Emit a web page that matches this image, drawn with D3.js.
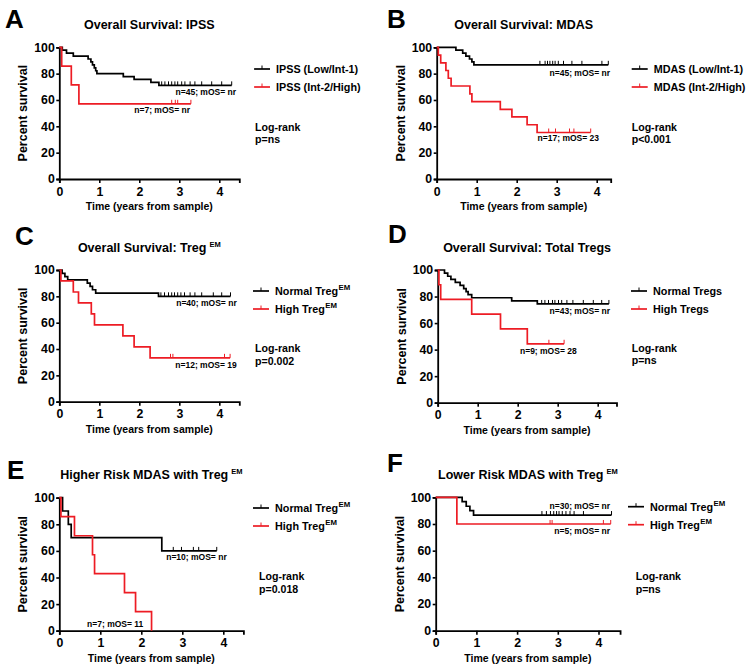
<!DOCTYPE html>
<html>
<head>
<meta charset="utf-8">
<script src="https://cdn.jsdelivr.net/npm/d3@7"></script>
<style>
  body { margin: 0; background: #fff; }
  svg text { font-family: "Liberation Sans", Arial, Helvetica, sans-serif; fill: #000; }
</style>
</head>
<body>
<div class="km-container"></div>
<script>
// ---- data ----
const timeTicks = [0, 1, 2, 3, 4];
const pctTicks = [0, 20, 40, 60, 80, 100];

const panelLetters = ["A", "B", "C", "D", "E", "F"];
const panelTitles = [
  ["Overall Survival: IPSS", ""],
  ["Overall Survival: MDAS", ""],
  ["Overall Survival: Treg", "EM"],
  ["Overall Survival: Total Tregs", ""],
  ["Higher Risk MDAS with Treg", "EM"],
  ["Lower Risk MDAS with Treg", "EM"]
];
const legendLabels = [
  [["IPSS (Low/Int-1)", ""], ["IPSS (Int-2/High)", ""]],
  [["MDAS (Low/Int-1)", ""], ["MDAS (Int-2/High)", ""]],
  [["Normal Treg", "EM"], ["High Treg", "EM"]],
  [["Normal Tregs", ""], ["High Tregs", ""]],
  [["Normal Treg", "EM"], ["High Treg", "EM"]],
  [["Normal Treg", "EM"], ["High Treg", "EM"]]
];
const nLabels = [
  ["n=45; mOS= nr", "n=7; mOS= nr"],
  ["n=45; mOS= nr", "n=17; mOS= 23"],
  ["n=40; mOS= nr", "n=12; mOS= 19"],
  ["n=43; mOS= nr", "n=9; mOS= 28"],
  ["n=10; mOS= nr", "n=7; mOS= 11"],
  ["n=30; mOS= nr", "n=5; mOS= nr"]
];
const pValues = ["p=ns", "p<0.001", "p=0.002", "p=ns", "p=0.018", "p=ns"];

// [years, percent surviving] at each step
const ipssLowSteps = [[0,100],[0.075,97.8],[0.18,95.6],[0.35,93.3],[0.72,91.1],[0.79,88.9],[0.83,86.7],[0.875,84.4],[0.91,82.2],[0.94,80.0],[1.6,77.8],[1.87,75.6],[2.29,73.3],[2.49,71.1],[4.31,71.1]];
const ipssLowCensor = [2.56,2.64,2.73,2.81,2.89,2.96,3.06,3.14,3.27,3.39,3.56,3.81,4.06,4.31];
const ipssHighSteps = [[0,100],[0.06,85.7],[0.3,71.4],[0.49,57.1],[3.29,57.1]];
const ipssHighCensor = [2.81,2.9,2.96,3.29];

const mdasLowSteps = [[0,100],[0.48,97.8],[0.65,95.6],[0.73,93.3],[0.82,91.1],[0.88,88.9],[0.93,86.7],[4.29,86.7]];
const mdasLowCensor = [2.58,2.71,2.77,2.83,2.9,2.96,3.04,3.17,3.38,3.63,4.13,4.29];
const mdasHighSteps = [[0,100],[0.04,94.1],[0.1,88.2],[0.23,82.4],[0.29,76.5],[0.36,70.6],[0.83,64.7],[0.88,58.8],[1.59,52.9],[1.88,47.1],[2.26,41.2],[2.51,35.3],[3.85,35.3]];
const mdasHighCensor = [2.8,2.97,3.32,3.43,3.85];

const tregEmNormSteps = [[0,100],[0.07,97.5],[0.14,95],[0.21,92.5],[0.7,90],[0.77,87.5],[0.83,85],[0.91,82.5],[2.48,80],[4.28,80]];
const tregEmNormCensor = [2.54,2.63,2.73,2.81,2.88,2.96,3.04,3.13,3.27,3.39,3.56,3.85,4.06,4.28];
const tregEmHighSteps = [[0,100],[0.04,91.7],[0.35,83.3],[0.48,75],[0.8,66.7],[0.88,58.3],[1.59,50],[1.87,41.7],[2.27,33.3],[4.27,33.3]];
const tregEmHighCensor = [2.78,2.84,4.13,4.27];

const tregNormSteps = [[0,100],[0.17,97.7],[0.25,95.3],[0.33,93.0],[0.44,90.7],[0.56,88.4],[0.65,86.0],[0.71,83.7],[0.76,81.4],[0.85,79.1],[1.85,76.7],[2.49,74.4],[4.28,74.4]];
const tregNormCensor = [2.6,2.68,2.77,2.87,2.93,3.02,3.1,3.23,3.38,3.64,3.89,4.1,4.28];
const tregHighSteps = [[0,100],[0.03,88.9],[0.075,77.8],[0.85,66.7],[1.57,55.6],[2.24,44.4],[3.16,44.4]];
const tregHighCensor = [2.78,3.16];

const hrNormSteps = [[0,100],[0.08,90],[0.22,80],[0.29,70],[2.5,60],[3.84,60]];
const hrNormCensor = [2.78,2.98,3.27,3.4,3.84];
const hrHighSteps = [[0,100],[0.04,85.7],[0.37,71.4],[0.81,57.1],[0.86,42.9],[1.59,28.6],[1.86,14.3],[2.25,0]];
const hrHighCensor = [];

const lrNormSteps = [[0,100],[0.65,96.7],[0.75,93.3],[0.84,90],[0.93,86.7],[4.32,86.7]];
const lrNormCensor = [2.61,2.72,2.82,2.9,2.97,3.03,3.11,3.2,3.3,3.4,3.63,4.32];
const lrHighSteps = [[0,100],[0.52,80],[4.3,80]];
const lrHighCensor = [2.81,2.86,4.12,4.3];

const seriesSteps = [
  [ipssLowSteps, ipssHighSteps], [mdasLowSteps, mdasHighSteps], [tregEmNormSteps, tregEmHighSteps],
  [tregNormSteps, tregHighSteps], [hrNormSteps, hrHighSteps], [lrNormSteps, lrHighSteps]
];
const seriesCensor = [
  [ipssLowCensor, ipssHighCensor], [mdasLowCensor, mdasHighCensor], [tregEmNormCensor, tregEmHighCensor],
  [tregNormCensor, tregHighCensor], [hrNormCensor, hrHighCensor], [lrNormCensor, lrHighCensor]
];

// ---- layout (pixels) ----
const colors = ["#000000", "#ed1c24"];
const layout = [
  { left: 59.3,  top: 47.3,  height: 131.7, pxYear: 40,   axisEnd: 4.5,  letter: [5, 28.3],   leg: [254, 69],    log: [255, 130.7], ann: [[236, 94.5], [190, 112.5]] },
  { left: 436.7, top: 47.3,  height: 131.7, pxYear: 40,   axisEnd: 4.35, letter: [387, 28.3], leg: [631.7, 69],  log: [631.7, 130.7], ann: [[610, 75.5], [599, 140.5]] },
  { left: 59.3,  top: 270,   height: 131.7, pxYear: 40,   axisEnd: 4.5,  letter: [15, 245],   leg: [253, 291],   log: [255, 352.3], ann: [[236.7, 306], [236.7, 367.5]] },
  { left: 437.7, top: 270,   height: 132.7, pxYear: 40,   axisEnd: 4.47, letter: [388, 243],  leg: [631, 291],   log: [631.7, 351.7], ann: [[610, 314], [576.7, 353.5]] },
  { left: 59.3,  top: 497.7, height: 133,   pxYear: 41,   axisEnd: 4.49, letter: [7, 479],    leg: [253, 508],   log: [259, 580], ann: [[226.7, 559.5], [143.3, 627]] },
  { left: 435.7, top: 497.3, height: 133.4, pxYear: 40.7, axisEnd: 4.53, letter: [387, 472],  leg: [628, 506.7], log: [635.7, 580], ann: [[610, 508.5], [610, 533.5]] }
];

const width = 747, height = 671;
const svg = d3.select(".km-container").append("svg")
  .attr("width", width)
  .attr("height", height)
  .style("background", "#fff");

// survival level in force at time t
function levelAt(steps, t) {
  let v = steps[0][1];
  steps.forEach(s => { if (s[0] <= t) v = s[1]; });
  return v;
}

function supText(sel, parts, supSize, dx, dy) {
  sel.append("tspan").text(parts[0]);
  if (parts[1]) {
    sel.append("tspan").attr("dx", dx).attr("dy", dy).style("font-size", supSize + "px").text(parts[1]);
  }
}

function drawPanel(i) {
  const L = layout[i];
  const x = d3.scaleLinear()
    .domain([0, L.axisEnd])
    .range([L.left, L.left + L.axisEnd * L.pxYear]);
  const y = d3.scaleLinear()
    .domain([0, 100])
    .range([L.top + L.height, L.top]);

  const g = svg.append("g");

  // panel letter
  g.append("text")
    .attr("x", L.letter[0]).attr("y", L.letter[1])
    .style("font-size", "26px").style("font-weight", "bold")
    .text(panelLetters[i]);

  // title
  const xMid = (x.range()[0] + x.range()[1]) / 2;
  const title = g.append("text")
    .attr("x", xMid).attr("y", L.top - 18.5)
    .attr("text-anchor", "middle")
    .style("font-size", "12.5px").style("font-weight", "bold");
  supText(title, panelTitles[i], 7.5, 3, -5);

  // axes
  const xAxis = g.append("g")
    .attr("transform", `translate(0, ${y(0)})`)
    .call(d3.axisBottom(x).tickValues(timeTicks).tickFormat(d3.format("d"))
      .tickSizeOuter(0).tickSize(4).tickPadding(4));
  const yAxis = g.append("g")
    .attr("transform", `translate(${x(0)}, 0)`)
    .call(d3.axisLeft(y).tickValues(pctTicks).tickSizeOuter(0).tickSize(3).tickPadding(1.5));
  [xAxis, yAxis].forEach(a => {
    a.select(".domain").attr("stroke-width", 1.8);
    a.selectAll(".tick line").attr("stroke-width", 1.6);
    a.selectAll(".tick text")
      .style("font-size", "12.3px").style("font-weight", "bold")
      .style("font-family", "'Liberation Sans', Arial, sans-serif");
  });

  // axis titles
  g.append("text")
    .attr("x", xMid).attr("y", y(0) + 31)
    .attr("text-anchor", "middle")
    .style("font-size", "10.5px").style("font-weight", "bold")
    .text("Time (years from sample)");
  g.append("text")
    .attr("transform", `translate(${x(0) - 32}, ${(y(0) + y(100)) / 2}) rotate(-90)`)
    .attr("text-anchor", "middle")
    .style("font-size", "12.5px").style("font-weight", "bold")
    .text("Percent survival");

  // curves + censor marks
  const line = d3.line()
    .x(d => x(d[0]))
    .y(d => y(d[1]))
    .curve(d3.curveStepAfter);

  [0, 1].forEach(k => {
    const steps = seriesSteps[i][k];
    g.append("path")
      .datum(steps)
      .attr("d", line)
      .attr("fill", "none")
      .attr("stroke", colors[k])
      .attr("stroke-width", 1.7);

    g.selectAll(null)
      .data(seriesCensor[i][k])
      .enter()
      .append("line")
        .attr("x1", d => x(d)).attr("x2", d => x(d))
        .attr("y1", d => y(levelAt(steps, d)))
        .attr("y2", d => y(levelAt(steps, d)) - 4)
        .attr("stroke", colors[k])
        .attr("stroke-width", 1);

    // n / median annotation
    g.append("text")
      .attr("x", L.ann[k][0]).attr("y", L.ann[k][1])
      .attr("text-anchor", "end")
      .style("font-size", "8.5px").style("font-weight", "bold")
      .text(nLabels[i][k]);

    // legend
    const ly = L.leg[1] + k * 18;
    g.append("line")
      .attr("x1", L.leg[0]).attr("x2", L.leg[0] + 16)
      .attr("y1", ly).attr("y2", ly)
      .attr("stroke", colors[k]).attr("stroke-width", 1.7);
    g.append("line")
      .attr("x1", L.leg[0] + 8).attr("x2", L.leg[0] + 8)
      .attr("y1", ly).attr("y2", ly - 3.5)
      .attr("stroke", colors[k]).attr("stroke-width", 1);
    const lt = g.append("text")
      .attr("x", L.leg[0] + 22).attr("y", ly + 4.3)
      .style("font-size", "10.8px").style("font-weight", "bold");
    supText(lt, legendLabels[i][k], 7.8, 0.5, -5);
  });

  // log-rank
  const lr = g.append("text")
    .attr("x", L.log[0]).attr("y", L.log[1])
    .style("font-size", "10.6px").style("font-weight", "bold");
  lr.append("tspan").text("Log-rank");
  lr.append("tspan").attr("x", L.log[0]).attr("dy", 12.5).text(pValues[i]);
}

d3.range(6).forEach(drawPanel);
</script>
</body>
</html>
